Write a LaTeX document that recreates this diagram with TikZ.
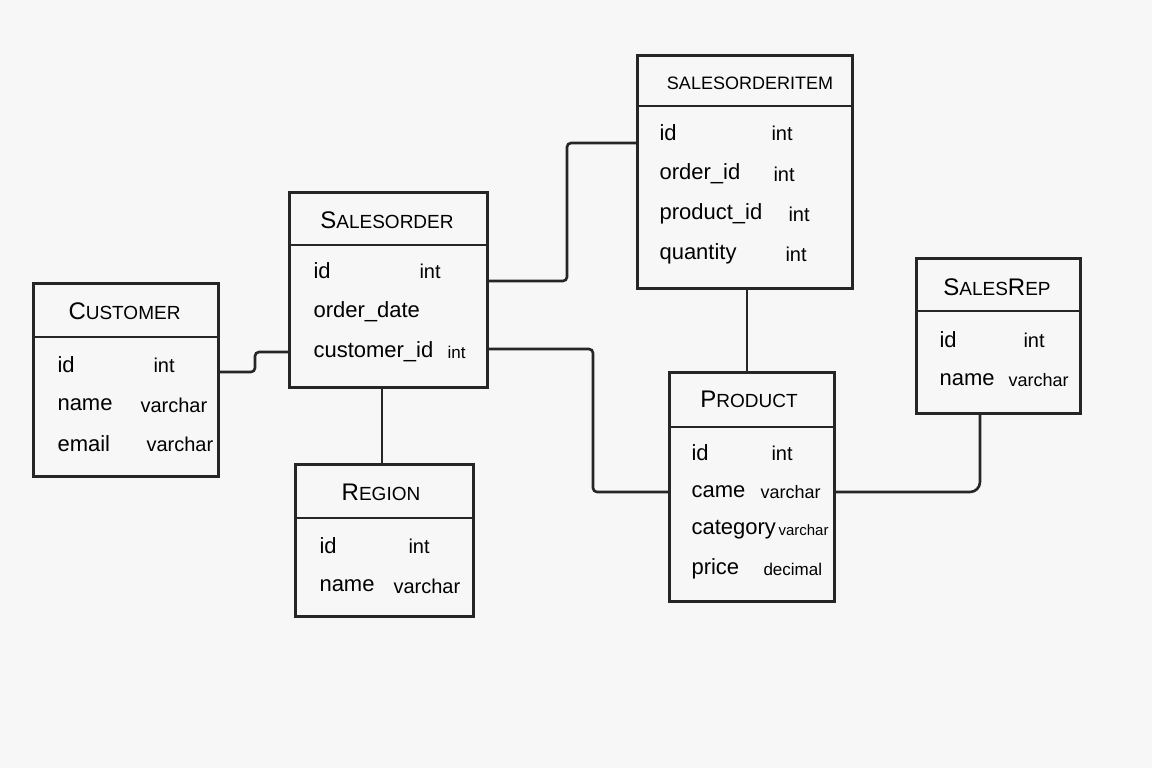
\documentclass[tikz,border=0pt]{standalone}
\usepackage{fontspec}
\setmainfont{Liberation Sans}
\newcommand{\capl}[1]{{\fontsize{24}{26}\selectfont #1}}
\begin{document}
\begin{tikzpicture}[x=1pt,y=-1pt,
  tbl/.style={draw=black!85,line width=2.6pt,anchor=north west,inner sep=0pt},
  ttl/.style={anchor=center,font=\fontsize{19}{24}\selectfont},
  fld/.style={anchor=west,font=\fontsize{22}{24}\selectfont},
  typ/.style={anchor=west,font=\fontsize{20}{22}\selectfont},
  sep/.style={draw=black!85,line width=2.6pt},
  con/.style={draw=black!85,line width=2.6pt,rounded corners=4pt}]
\fill[black!3] (0,0) rectangle (1152,768);
\useasboundingbox (0,0) rectangle (1152,768);
% Customer
\node[tbl,minimum width=185,minimum height=193] (cust) at (32,282) {};
\draw[sep] (32,337) -- (217,337);
\node[ttl] (custT) at (124.5,311) {\capl{C}USTOMER};
\node[fld] (c1) at (54,365) {id}; \node[typ] (c1t) at (150,365) {int};
\node[fld] (c2) at (54,405) {name}; \node[typ] (c2t) at (137,405) {varchar};
\node[fld] (c3) at (54,444) {email}; \node[typ] (c3t) at (143,444) {varchar};
% SalesOrder
\node[tbl,minimum width=198,minimum height=195] (so) at (288,191) {};
\draw[sep] (288,245) -- (486,245);
\node[ttl] (soT) at (387,220) {\capl{S}ALESORDER};
\node[fld] (s1) at (310,271) {id}; \node[typ] (s1t) at (416,271) {int};
\node[fld] (s2) at (310,312) {order\_date};
\node[fld] (s3) at (310,352) {customer\_id}; \node[typ,font=\fontsize{17}{20}\selectfont] (s3t) at (444,352) {int};
% Region
\node[tbl,minimum width=178,minimum height=152] (reg) at (294,463) {};
\draw[sep] (294,518) -- (472,518);
\node[ttl] (regT) at (381,492) {\capl{R}EGION};
\node[fld] (r1) at (316,546) {id}; \node[typ] (r1t) at (405,546) {int};
\node[fld] (r2) at (316,586) {name}; \node[typ] (r2t) at (390,586) {varchar};
% SalesOrderItem
\node[tbl,minimum width=215,minimum height=233] (soi) at (636,54) {};
\draw[sep] (636,106) -- (851,106);
\node[ttl,font=\fontsize{18}{22}\selectfont] (soiT) at (750,83) {SALESORDERITEM};
\node[fld] (i1) at (656,133) {id}; \node[typ] (i1t) at (768,133) {int};
\node[fld] (i2) at (656,174) {order\_id}; \node[typ] (i2t) at (770,174) {int};
\node[fld] (i3) at (656,214) {product\_id}; \node[typ] (i3t) at (785,214) {int};
\node[fld] (i4) at (656,254) {quantity}; \node[typ] (i4t) at (782,254) {int};
% Product
\node[tbl,minimum width=165,minimum height=229] (prod) at (668,371) {};
\draw[sep] (668,427) -- (833,427);
\node[ttl] (prodT) at (749,399) {\capl{P}RODUCT};
\node[fld] (p1) at (688,453) {id}; \node[typ] (p1t) at (768,453) {int};
\node[fld] (p2) at (688,492) {came}; \node[typ,font=\fontsize{18}{20}\selectfont] (p2t) at (757,492) {varchar};
\node[fld] (p3) at (688,530) {category}; \node[typ,font=\fontsize{15}{18}\selectfont] (p3t) at (775,530) {varchar};
\node[fld] (p4) at (688,569) {price}; \node[typ,font=\fontsize{17}{20}\selectfont] (p4t) at (760,569) {decimal};
% SalesRep
\node[tbl,minimum width=164,minimum height=155] (rep) at (915,257) {};
\draw[sep] (915,311) -- (1079,311);
\node[ttl] (repT) at (997,287) {\capl{S}ALES\capl{R}EP};
\node[fld] (e1) at (936,340) {id}; \node[typ] (e1t) at (1020,340) {int};
\node[fld] (e2) at (936,380) {name}; \node[typ,font=\fontsize{18}{20}\selectfont] (e2t) at (1005,380) {varchar};
% connectors
\draw[con] (cust.east |- 0,372) -- (255,372) -- (255,352) -- (so.west |- 0,352);
\draw[con] (so.south -| 382,0) -- (reg.north -| 382,0);
\draw[con] (so.east |- 0,281) -- (567,281) -- (567,143) -- (soi.west |- 0,143);
\draw[con] (so.east |- 0,349) -- (593,349) -- (593,492) -- (prod.west |- 0,492);
\draw[con] (soi.south -| 747,0) -- (prod.north -| 747,0);
\draw[con,rounded corners=10pt] (prod.east |- 0,492) -- (980,492) -- (980,412);
\end{tikzpicture}
\end{document}
